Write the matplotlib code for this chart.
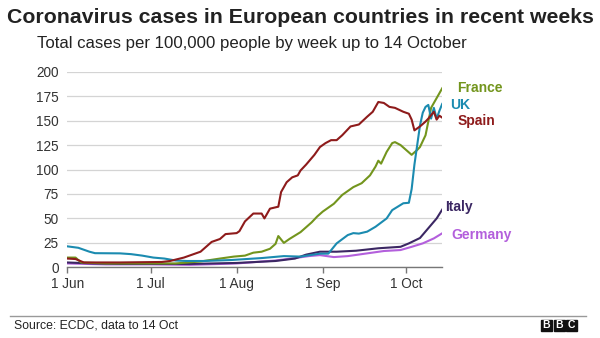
import matplotlib
matplotlib.use("Agg")
import matplotlib.pyplot as plt
from matplotlib.patches import Rectangle
import pandas as pd

plt.rcParams["font.family"] = ["Liberation Sans", "DejaVu Sans"]

# values (cases per 100,000, 7-day)
spain_dates = ["06-01", "06-04", "06-07", "06-20", "07-05", "07-08", "07-13", "07-16",
               "07-19", "07-21", "07-23", "07-26", "07-28", "08-01", "08-02", "08-04",
               "08-07", "08-10", "08-11", "08-13", "08-16", "08-17", "08-19", "08-21",
               "08-23", "08-24", "08-26", "08-29", "08-31", "09-02", "09-04", "09-06",
               "09-08", "09-11", "09-14", "09-17", "09-19", "09-21", "09-23", "09-25",
               "09-27", "09-30", "10-02", "10-03", "10-04", "10-06", "10-08", "10-09",
               "10-11", "10-12", "10-13", "10-14"]
spain_cases = [9, 8.5, 5, 5, 5.5, 6.5, 10, 13,
               16, 21, 26, 29, 34, 35, 37, 47,
               55, 55, 50, 60, 62, 77, 87, 92,
               94, 99, 105, 115, 123, 127, 130, 130,
               135, 144, 146, 154, 159, 169, 168, 164,
               163, 159, 157, 151, 140, 144, 149, 152,
               159, 151, 155, 153]

france_dates = ["06-01", "06-04", "06-06", "06-15", "07-01", "07-10", "07-19", "07-26",
                "07-31", "08-04", "08-07", "08-10", "08-13", "08-15", "08-16", "08-18",
                "08-20", "08-24", "08-28", "08-30", "09-01", "09-05", "09-08", "09-12",
                "09-15", "09-18", "09-20", "09-21", "09-22", "09-24", "09-26", "09-27",
                "09-29", "10-01", "10-03", "10-05", "10-06", "10-08", "10-09", "10-10",
                "10-12", "10-14"]
france_cases = [10, 10, 5, 4, 4, 4, 6, 9,
                11, 12, 15, 16, 19, 24, 32, 25,
                29, 36, 46, 52, 57, 65, 74, 82,
                86, 94, 103, 109, 106, 118, 127, 128,
                125, 120, 115, 120, 123, 135, 149, 163,
                173, 183]

uk_dates = ["06-01", "06-05", "06-09", "06-11", "06-20", "06-24", "06-28", "07-02",
            "07-06", "07-10", "07-14", "07-20", "07-30", "08-10", "08-18", "08-24",
            "08-31", "09-03", "09-06", "09-10", "09-12", "09-14", "09-17", "09-20",
            "09-24", "09-26", "09-28", "09-30", "10-02", "10-03", "10-04", "10-05",
            "10-06", "10-07", "10-08", "10-09", "10-10", "10-11", "10-12", "10-13",
            "10-14"]
uk_cases = [21.5, 20, 16, 14.5, 14.3, 13.5, 12, 10,
            9, 7, 6.5, 6.5, 7.5, 9.5, 11.5, 11,
            14, 14, 24.5, 33, 35, 34.5, 36.5, 41.5,
            50, 58.5, 62, 65.5, 66, 80, 105, 125,
            145, 158, 164, 166, 152, 163, 152, 160,
            167]

italy_dates = ["06-01", "06-10", "06-20", "07-01", "07-15", "08-01", "08-15", "08-22",
               "08-26", "08-31", "09-06", "09-13", "09-21", "09-29", "10-02", "10-06",
               "10-09", "10-12", "10-14"]
italy_cases = [5, 4, 3.5, 3.5, 3.5, 4.5, 6.5, 9,
               13, 16, 16, 17, 19.5, 21, 24.5, 30,
               40, 50, 59]

germany_dates = ["06-01", "06-15", "07-01", "07-15", "08-01", "08-15", "08-22", "08-27",
                 "08-31", "09-05", "09-10", "09-17", "09-23", "09-29", "10-03", "10-07",
                 "10-11", "10-14"]
germany_cases = [4, 3, 3, 2.5, 4, 7, 9.5, 11.5,
                 12.5, 10.5, 11.5, 14.3, 16.7, 17.7, 21, 24.5,
                 29.6, 34.8]

month_ticks = ["06-01", "07-01", "08-01", "09-01", "10-01"]
month_labels = ["1 Jun", "1 Jul", "1 Aug", "1 Sep", "1 Oct"]
y_ticks = [0, 25, 50, 75, 100, 125, 150, 175, 200]


def to_dates(days):
    return pd.to_datetime(["2020-" + d for d in days])


series = [
    # name, dates, values, colour, label offset in pixels
    ("Germany", germany_dates, germany_cases, "#b35fdc", (9, -2)),
    ("Italy", italy_dates, italy_cases, "#3b2763", (3, 3)),
    ("France", france_dates, france_cases, "#73951d", (15, 0)),
    ("UK", uk_dates, uk_cases, "#1b8bb0", (8, -1)),
    ("Spain", spain_dates, spain_cases, "#8e1b1b", (15, -3)),
]

fig = plt.figure(figsize=(6, 3.38), dpi=100)
ax = fig.add_axes([0.112, 0.209, 0.625, 0.579])

for name, d, v, col, off in series:
    dates = to_dates(d)
    ax.plot(dates, v, color=col, lw=1.5, solid_joinstyle="round", zorder=3)
    ax.annotate(name, xy=(dates[-1], v[-1]), xytext=off, textcoords="offset pixels",
                ha="left", va="center", color=col, fontsize=10, fontweight="bold",
                annotation_clip=False)

ax.set_xlim(pd.Timestamp("2020-06-01"), pd.Timestamp("2020-10-14"))
ax.set_ylim(0, 200)
ax.set_yticks(y_ticks)
ax.set_xticks(to_dates(month_ticks))
ax.set_xticklabels(month_labels)

ax.grid(axis="y", color="#d4d4d4", lw=0.9)
ax.set_axisbelow(True)
for side in ["top", "right", "left"]:
    ax.spines[side].set_visible(False)
ax.spines["bottom"].set_color("#777777")
ax.spines["bottom"].set_linewidth(1.0)
ax.tick_params(axis="y", length=0, pad=6, labelsize=9.8, labelcolor="#333333")
ax.tick_params(axis="x", length=4, width=1, color="#777777", pad=3,
               labelsize=9.8, labelcolor="#333333")

fig.text(0.012, 1 - 23 / 338, "Coronavirus cases in European countries in recent weeks",
         fontsize=15.3, fontweight="bold", color="#222222", va="baseline")
fig.text(0.062, 1 - 48 / 338, "Total cases per 100,000 people by week up to 14 October",
         fontsize=12.1, color="#222222", va="baseline")

fig.add_artist(plt.Line2D([10 / 600, 586 / 600], [1 - 315.5 / 338] * 2,
                          color="#999999", lw=1.0))
fig.text(14 / 600, 1 - 328 / 338, "Source: ECDC, data to 14 Oct",
         fontsize=8.8, color="#222222", va="baseline")

# BBC blocks
for i, letter in enumerate("BBC"):
    x0 = (541 + i * 12.5) / 600
    fig.add_artist(Rectangle((x0, 1 - 331 / 338), 11 / 600, 11 / 338,
                             transform=fig.transFigure, color="#111111"))
    fig.text(x0 + 5.5 / 600, 1 - 325.5 / 338, letter, color="white",
             fontsize=7.5, fontweight="bold", ha="center", va="center")

fig.savefig("out.png", dpi=100)
